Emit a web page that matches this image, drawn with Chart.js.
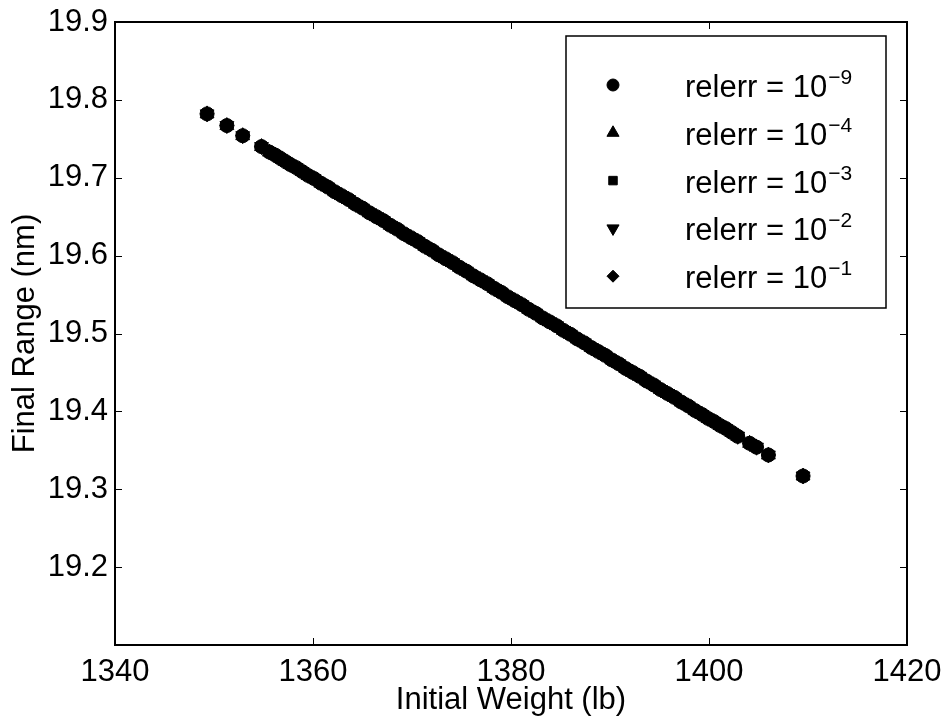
<!DOCTYPE html>
<html>
<head>
<meta charset="utf-8">
<script src="https://cdn.jsdelivr.net/npm/chart.js@4.4.1/dist/chart.umd.min.js"></script>
<style>
  html, body { margin: 0; padding: 0; background: #fff; }
  #wrap { width: 946px; height: 724px; }
</style>
</head>
<body>
<div id="wrap"><canvas id="rangeChart" width="946" height="724"></canvas></div>
<script>
// values (all five relerr runs land on the same points)
const weightLb = [
  1349.3, 1351.3, 1352.9, 1354.8, 1355.6, 1356.2, 1356.7, 1357.2, 1357.7, 1358.3,
  1358.9, 1359.5, 1360.1, 1360.8, 1361.5, 1362.2, 1362.9, 1363.6, 1364.3, 1365.0,
  1365.7, 1366.4, 1367.1, 1367.8, 1368.5, 1369.2, 1369.9, 1370.6, 1371.3, 1372.0,
  1372.7, 1373.4, 1374.1, 1374.8, 1375.5, 1376.2, 1376.9, 1377.6, 1378.3, 1379.0,
  1379.7, 1380.4, 1381.1, 1381.8, 1382.5, 1383.2, 1383.9, 1384.6, 1385.3, 1386.0,
  1386.7, 1387.4, 1388.1, 1388.8, 1389.5, 1390.2, 1390.9, 1391.6, 1392.3, 1393.0,
  1393.7, 1394.4, 1395.1, 1395.8, 1396.5, 1397.2, 1397.9, 1398.6, 1399.3, 1399.9,
  1400.5, 1401.1, 1401.7, 1402.3, 1402.9, 1404.1, 1404.8, 1406.0, 1409.5
];
const rangeNm = [
  19.782, 19.767, 19.754, 19.740, 19.733, 19.729, 19.725, 19.721, 19.717, 19.713,
  19.708, 19.703, 19.699, 19.693, 19.688, 19.682, 19.677, 19.672, 19.666, 19.661,
  19.655, 19.650, 19.645, 19.639, 19.634, 19.628, 19.623, 19.618, 19.612, 19.607,
  19.601, 19.596, 19.591, 19.585, 19.580, 19.574, 19.569, 19.564, 19.558, 19.553,
  19.547, 19.542, 19.537, 19.531, 19.526, 19.520, 19.515, 19.510, 19.504, 19.499,
  19.493, 19.488, 19.482, 19.477, 19.472, 19.466, 19.461, 19.455, 19.450, 19.445,
  19.439, 19.434, 19.428, 19.423, 19.418, 19.412, 19.407, 19.401, 19.396, 19.391,
  19.387, 19.382, 19.378, 19.373, 19.368, 19.359, 19.354, 19.344, 19.317
];

const relerrExponents = ['\u22129', '\u22124', '\u22123', '\u22122', '\u22121'];
const markerStyles = ['circle', 'triangle', 'rect', 'triangle', 'rectRot'];
const markerRotations = [0, 0, 0, 180, 0];
const markerRadii = [7, 8, 7, 8, 7];
const legendRadii = [6, 7, 6, 7, 6];

const xMin = 1340, xMax = 1420, xStep = 20;
const yMin = 19.1, yMax = 19.9, yStep = 0.1;

const FONT = '"Liberation Sans", Arial, Helvetica, sans-serif';
const FONT_SIZE = 31;

const points = weightLb.map((w, i) => ({ x: w, y: rangeNm[i] }));

const datasets = relerrExponents.map((e, i) => ({
    label: 'relerr = 10^' + e,
    data: points,
    showLine: false,
    pointStyle: markerStyles[i],
    rotation: markerRotations[i],
    pointRadius: markerRadii[i],
    pointBackgroundColor: '#000',
    pointBorderColor: '#000',
    pointBorderWidth: 1
}));

// MATLAB style box with inward ticks on all four sides
const axesBox = {
    id: 'axesBox',
    afterDatasetsDraw(chart) {
        const { ctx, chartArea: a } = chart;
        const xs = chart.scales.x, ys = chart.scales.y;
        ctx.save();
        ctx.strokeStyle = '#000';
        ctx.lineWidth = 1;
        xs.ticks.forEach(t => {
            const px = Math.round(xs.getPixelForValue(t.value)) + 0.5;
            ctx.beginPath();
            ctx.moveTo(px, a.bottom); ctx.lineTo(px, a.bottom - 7);
            ctx.moveTo(px, a.top); ctx.lineTo(px, a.top + 7);
            ctx.stroke();
        });
        ys.ticks.forEach(t => {
            const py = Math.round(ys.getPixelForValue(t.value)) + 0.5;
            ctx.beginPath();
            ctx.moveTo(a.left, py); ctx.lineTo(a.left + 7, py);
            ctx.moveTo(a.right, py); ctx.lineTo(a.right - 7, py);
            ctx.stroke();
        });
        ctx.lineWidth = 2;
        ctx.strokeRect(a.left, a.top, a.right - a.left, a.bottom - a.top);
        ctx.restore();
    }
};

// legend box with superscript exponents
const relerrLegend = {
    id: 'relerrLegend',
    afterDraw(chart) {
        const { ctx, chartArea: a } = chart;
        const boxL = a.right - 341, boxT = a.top + 14, boxW = 320, boxH = 272;
        ctx.save();
        ctx.fillStyle = '#fff';
        ctx.fillRect(boxL, boxT, boxW, boxH);
        ctx.strokeStyle = '#000';
        ctx.lineWidth = 1.5;
        ctx.strokeRect(boxL, boxT, boxW, boxH);

        chart.data.datasets.forEach((ds, i) => {
            const my = boxT + 49 + i * 47.8;
            ctx.fillStyle = '#000';
            ctx.strokeStyle = '#000';
            ctx.lineWidth = 1;
            Chart.helpers.drawPoint(ctx, {
                pointStyle: markerStyles[i],
                rotation: markerRotations[i],
                radius: legendRadii[i],
                borderWidth: 1
            }, boxL + 47, my);

            const base = my + 12;
            ctx.textBaseline = 'alphabetic';
            ctx.textAlign = 'left';
            ctx.font = FONT_SIZE + 'px ' + FONT;
            const main = 'relerr = 10';
            ctx.fillText(main, boxL + 119, base);
            const w = ctx.measureText(main).width;
            ctx.font = '21px ' + FONT;
            ctx.fillText(relerrExponents[i], boxL + 119 + w + 1, base - 13);
        });
        ctx.restore();
    }
};

new Chart(document.getElementById('rangeChart'), {
    type: 'scatter',
    data: { datasets: datasets },
    options: {
        responsive: false,
        devicePixelRatio: 1,
        animation: false,
        layout: { padding: { left: 0, top: 22, right: 39, bottom: 0 } },
        plugins: {
            legend: { display: false },
            tooltip: { enabled: false }
        },
        scales: {
            x: {
                type: 'linear',
                min: xMin,
                max: xMax,
                grid: { display: false, drawTicks: false },
                border: { display: false },
                ticks: {
                    stepSize: xStep,
                    color: '#000',
                    padding: 9,
                    font: { family: FONT, size: FONT_SIZE },
                    maxRotation: 0,
                    callback: v => String(v)
                },
                title: {
                    display: true,
                    text: 'Initial Weight (lb)',
                    color: '#000',
                    font: { family: FONT, size: FONT_SIZE },
                    padding: { top: 0, bottom: 5 }
                },
                afterFit: s => { s.height = 79; s.paddingLeft = 0; s.paddingRight = 0; }
            },
            y: {
                type: 'linear',
                min: yMin,
                max: yMax,
                grid: { display: false, drawTicks: false },
                border: { display: false },
                ticks: {
                    stepSize: yStep,
                    color: '#000',
                    padding: 7,
                    font: { family: FONT, size: FONT_SIZE },
                    callback: v => (v < yMin + yStep / 2 ? '' : v.toFixed(1))
                },
                title: {
                    display: true,
                    text: 'Final Range (nm)',
                    color: '#000',
                    font: { family: FONT, size: FONT_SIZE },
                    padding: { top: 7, bottom: 0 }
                },
                afterFit: s => { s.width = 115; s.paddingTop = 0; s.paddingBottom = 0; }
            }
        }
    },
    plugins: [axesBox, relerrLegend]
});
</script>
</body>
</html>
